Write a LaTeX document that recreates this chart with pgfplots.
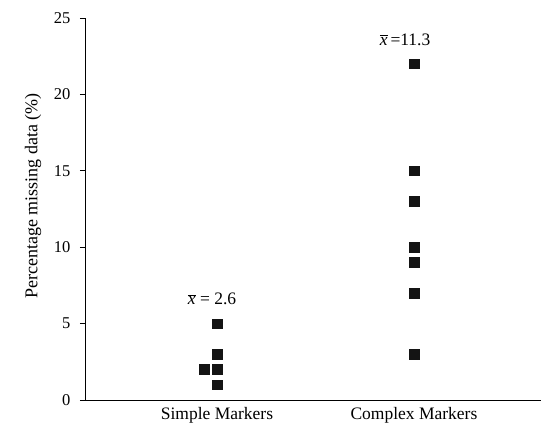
\documentclass[border=0pt]{standalone}
\usepackage{pgfplots}
\pgfplotsset{compat=1.18}
\usepackage{fontspec}
\setmainfont{Liberation Serif}
\begin{document}
\fontsize{16bp}{19bp}\selectfont
\begin{tikzpicture}
\begin{axis}[
  at={(85bp,24bp)}, anchor=south west,
  scale only axis,
  width=456bp, height=382bp,
  xmin=0.33, xmax=2.645,
  ymin=0, ymax=25,
  axis lines=left,
  axis line style={-, line width=0.8pt},
  ytick={0,5,10,15,20,25},
  xtick={1,2},
  xticklabels={Simple Markers, Complex Markers},
  major x tick style={draw=none},
  tick align=outside,
  ytick pos=left,
  major tick length=5bp,
  tick style={line width=0.8pt, black},
  /pgf/number format/assume math mode=true,
  yticklabel style={xshift=-4bp, font=\fontsize{16.5bp}{19bp}\selectfont},
  xticklabel style={anchor=base, yshift=-14.5bp, font=\fontsize{17.5bp}{20bp}\selectfont},
  ylabel={Percentage missing data (\%)},
  ylabel style={at={(axis description cs:-0.114,0.534)}, anchor=center, font=\fontsize{18bp}{21bp}\selectfont},
  clip=false,
]
\addplot[only marks, mark=square*, mark size=4.8bp, mark options={fill=black!92, draw=black!92}] coordinates {
  (1,5) (1,3) (1,2) (0.934,2) (1,1)
};
\addplot[only marks, mark=square*, mark size=4.8bp, mark options={fill=black!92, draw=black!92}] coordinates {
  (2,22) (2,15) (2,13) (2,10) (2,9) (2,7) (2,3)
};
\node[font=\fontsize{17.5bp}{20bp}\selectfont] at (axis cs:0.975,6.6) {$\overline{\mbox{\textit{x}}}$ = 2.6};
\node[font=\fontsize{17.5bp}{20bp}\selectfont] at (axis cs:1.955,23.6) {$\overline{\mbox{\textit{x}}}$\,=11.3};
\end{axis}
\pgfresetboundingbox
\path (0,0) rectangle (541bp,424bp);
\end{tikzpicture}
\end{document}
